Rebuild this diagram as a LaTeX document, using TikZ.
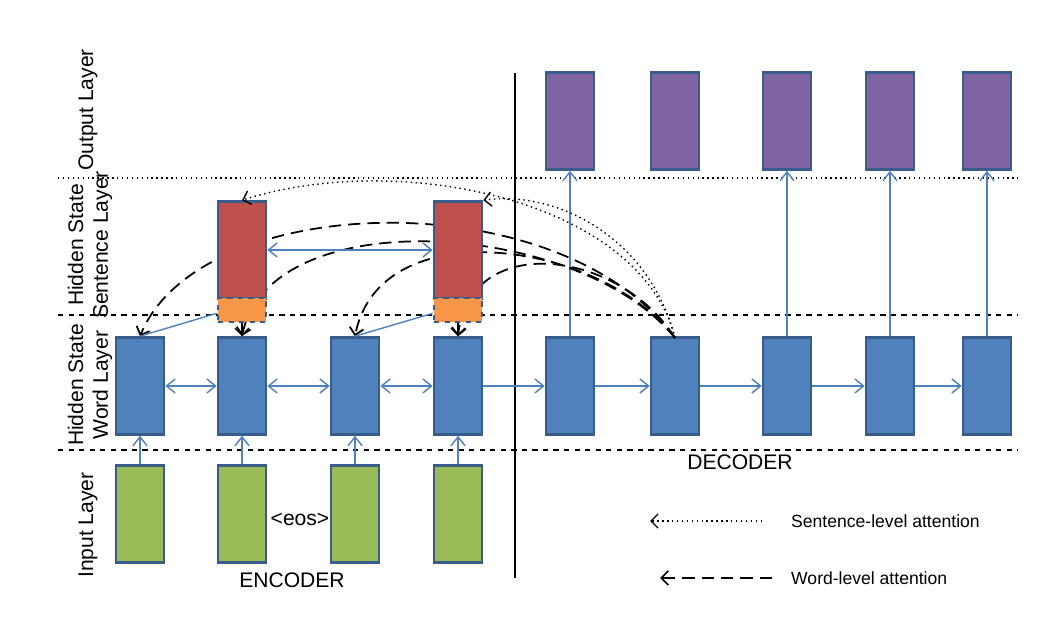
\documentclass[tikz,border=0pt]{standalone}
\usepackage{fontspec}
\setmainfont{Liberation Sans}
\usetikzlibrary{arrows.meta}
\definecolor{bl}{HTML}{4F81BD}\definecolor{bd}{HTML}{385D8A}
\definecolor{rd}{HTML}{C0504D}\definecolor{og}{HTML}{F79646}
\definecolor{gr}{HTML}{9BBB59}\definecolor{pu}{HTML}{8064A2}
\begin{document}
\begin{tikzpicture}[x=0.02cm,y=-0.02cm,
 box/.style={draw=bd,line width=1.5pt,minimum width=0.96cm,minimum height=1.94cm,inner sep=0},
 sbox/.style={draw=bd,line width=1.5pt,fill=og,dashed,minimum width=0.96cm,minimum height=0.48cm,inner sep=0},
 ba/.style={bl,line width=0.8pt,-{Straight Barb[length=5pt,width=8pt]}},
 bba/.style={bl,line width=0.8pt,{Straight Barb[length=5pt,width=8pt]}-{Straight Barb[length=5pt,width=8pt]}},
 att/.style={black,line width=1pt,dash pattern=on 7pt off 4pt,-{Straight Barb[length=4pt,width=8pt]}},
 sat/.style={black,line width=0.8pt,dotted,-{Straight Barb[length=4pt,width=8pt]}},
 lab/.style={rotate=90,font=\large,align=center}]
\useasboundingbox (0,0) rectangle (1064,644);
% layer lines
\draw[line width=0.8pt,dotted] (58,178) -- (1018,178);
\draw[line width=0.8pt,dashed] (58,315) -- (1018,315);
\draw[line width=0.8pt,dashed] (58,450) -- (1018,450);
\draw[line width=1pt] (515,73) -- (515,578);
% labels
\node[lab] (lo) at (88,110) {Output Layer};
\node[lab] (ls) at (90,245) {Hidden State\\Sentence Layer};
\node[lab] (lw) at (90,385) {Hidden State\\Word Layer};
\node[lab] (li) at (88,525) {Input Layer};
% encoder
\foreach \i/\x in {1/140,2/242,3/355,4/458}{
 \node[box,fill=gr] (i\i) at (\x,514) {};
 \node[box,fill=bl] (w\i) at (\x,386) {};
 \draw[ba] (i\i.north) -- (w\i.south);
}
\foreach \i/\x in {1/570,2/675,3/787,4/890,5/987}{
 \node[box,fill=bl] (d\i) at (\x,386) {};
 \node[box,fill=pu] (o\i) at (\x,121) {};
}
\foreach \i in {1,3,4,5}{\draw[ba] (d\i.north) -- (o\i.south);}
\draw[bba] (w1) -- (w2); \draw[bba] (w2) -- (w3); \draw[bba] (w3) -- (w4);
\draw[ba] (w4) -- (d1); \draw[ba] (d1) -- (d2); \draw[ba] (d2) -- (d3); \draw[ba] (d3) -- (d4); \draw[ba] (d4) -- (d5);
% attention (behind sentence boxes)
\coordinate (src) at (675,338);
\draw[att] (src) .. controls (560,180) and (200,190) .. (w1.north);
\draw[att] (src) .. controls (580,220) and (270,200) .. (w2.north);
\draw[att] (src) .. controls (600,240) and (380,210) .. (w3.north);
\draw[att] (src) .. controls (620,250) and (470,230) .. (w4.north);
% sentence layer
\foreach \i/\x in {1/242,2/458}{
 \node[box,fill=rd,minimum height=1.94cm] (s\i) at (\x,250) {};
 \node[sbox] (g\i) at (\x,310) {};
}
\draw[bba] (s1) -- (s2);
\draw[bl,line width=0.8pt] (g1.south west) ++(0,-10) -- (w1.north);
\draw[bl,line width=0.8pt] (g2.south west) ++(0,-10) -- (w3.north);
\draw[black,line width=0.8pt,-{Straight Barb[length=4pt,width=8pt]}] (g1.south) -- (w2.north);
\draw[black,line width=0.8pt,-{Straight Barb[length=4pt,width=8pt]}] (g2.south) -- (w4.north);
\draw[sat] (src) .. controls (640,200) and (400,150) .. (s1.north);
\draw[sat] (src) .. controls (650,240) and (560,190) .. (s2.north east);
% texts
\node (dec) at (740,462) {\large DECODER};
\node (enc) at (292,580) {\large ENCODER};
\node (eos) at (300,519) {\large <eos>};
% legend
\coordinate (l1a) at (762,521); \coordinate (l1b) at (650,521);
\coordinate (l2a) at (772,578); \coordinate (l2b) at (660,578);
\draw[sat] (l1a) -- (l1b);
\draw[att] (l2a) -- (l2b);
\node[anchor=west] (t1) at (785,521) {Sentence-level attention};
\node[anchor=west] (t2) at (785,578) {Word-level attention};
\end{tikzpicture}
\end{document}
